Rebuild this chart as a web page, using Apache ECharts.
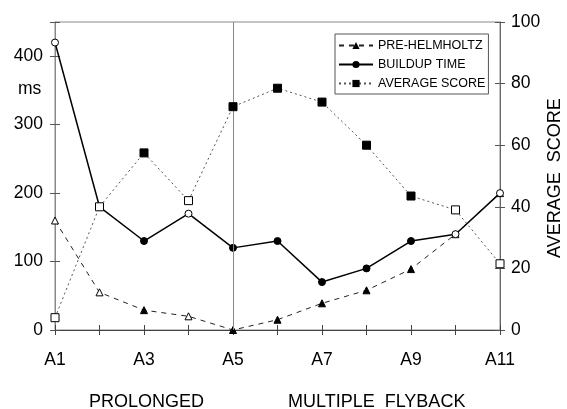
<!DOCTYPE html>
<html>
<head>
<meta charset="utf-8">
<script src="https://cdn.jsdelivr.net/npm/echarts@6/dist/echarts.min.js"></script>
<style>
  html, body { margin: 0; padding: 0; background: #fff; }
  #chart { width: 567px; height: 409px; }
</style>
</head>
<body>
<div id="chart"></div>
<script>
// Trial positions A1..A11
const categories = ['A1', 'A2', 'A3', 'A4', 'A5', 'A6', 'A7', 'A8', 'A9', 'A10', 'A11'];
// Times in ms (left axis)
const preHelmholtz = [160, 55, 29, 20, 0, 15, 39, 58, 89, 140, 200];
const buildupTime = [420, 180, 130, 170, 120, 130, 70, 90, 130, 140, 200];
// Score (right axis)
const averageScore = [4, 40, 57.5, 42, 72.5, 78.5, 74, 60, 43.5, 39, 21.5];
// Left / right tick labels
const msTicks = [0, 100, 200, 300, 400];
const scoreTicks = [0, 20, 40, 60, 80, 100];
// Positions drawn with open (hollow) markers
const openMarkers = ['A1', 'A2', 'A4', 'A10', 'A11'];

const FONT = 'Liberation Sans, Arial, sans-serif';

function styled(values) {
  return values.map((v, i) => ({
    value: v,
    itemStyle: openMarkers.includes(categories[i])
      ? { color: '#fff', borderColor: '#000', borderWidth: 1 }
      : { color: '#000', borderColor: '#000', borderWidth: 1 }
  }));
}

const chart = echarts.init(document.getElementById('chart'), null, { renderer: 'canvas' });

const axisLabelStyle = { color: '#000', fontFamily: FONT, fontSize: 17.5 };

chart.setOption({
  animation: false,
  backgroundColor: '#fff',
  textStyle: { fontFamily: FONT },
  grid: { left: 55, right: 67, top: 22, bottom: 79, show: true, borderColor: '#888', borderWidth: 1 },
  legend: {
    orient: 'vertical',
    left: 335,
    top: 34,
    padding: [5, 3, 4, 3],
    itemGap: 6,
    itemWidth: 34,
    itemHeight: 9,
    borderColor: '#555',
    borderWidth: 1,
    textStyle: { color: '#000', fontSize: 12.5, fontFamily: FONT },
    data: ['PRE-HELMHOLTZ', 'BUILDUP TIME', 'AVERAGE SCORE']
  },
  xAxis: [
    {
      type: 'category', data: categories, boundaryGap: false, position: 'bottom',
      axisLine: { onZero: false, lineStyle: { color: '#444', width: 1 } },
      axisTick: { show: true, interval: 0, length: 5, lineStyle: { color: '#444' } },
      axisLabel: Object.assign({ interval: 1, margin: 21 }, axisLabelStyle),
      splitLine: { show: false }
    },
    {
      type: 'category', data: categories, boundaryGap: false, position: 'bottom',
      axisLine: { show: false, onZero: false },
      axisTick: { show: true, inside: true, interval: 0, length: 5, lineStyle: { color: '#444' } },
      axisLabel: { show: false },
      splitLine: { show: false }
    }
  ],
  yAxis: [
    {
      type: 'value', position: 'left', min: 0, max: 450, interval: 100,
      axisLine: { show: true, lineStyle: { color: '#888' } },
      axisTick: { show: true, length: 5, lineStyle: { color: '#555' } },
      axisLabel: Object.assign({
        margin: 12,
        formatter: v => msTicks.includes(v) ? String(v) : ''
      }, axisLabelStyle),
      splitLine: { show: false }
    },
    {
      type: 'value', position: 'right', min: 0, max: 100, interval: 20,
      axisLine: { show: true, lineStyle: { color: '#666' } },
      axisTick: { show: true, length: 5, lineStyle: { color: '#555' } },
      axisLabel: Object.assign({
        margin: 11,
        formatter: v => scoreTicks.includes(v) ? String(v) : ''
      }, axisLabelStyle),
      splitLine: { show: false }
    },
    {
      type: 'value', position: 'left', min: 0, max: 450, interval: 100,
      axisLine: { show: false, onZero: false },
      axisTick: { show: true, inside: true, length: 5, lineStyle: { color: '#555' } },
      axisLabel: { show: false }, splitLine: { show: false }
    },
    {
      type: 'value', position: 'right', min: 0, max: 100, interval: 20,
      axisLine: { show: false, onZero: false },
      axisTick: { show: true, inside: true, length: 5, lineStyle: { color: '#555' } },
      axisLabel: { show: false }, splitLine: { show: false }
    }
  ],
  series: [
    {
      name: 'PRE-HELMHOLTZ', type: 'line', yAxisIndex: 0,
      data: styled(preHelmholtz),
      symbol: 'triangle', symbolSize: 7,
      itemStyle: { color: '#000' },
      lineStyle: { color: '#222', width: 1, type: [5, 5] },
      z: 3,
      markLine: {
        silent: true, symbol: 'none', label: { show: false },
        lineStyle: { color: '#888', width: 1, type: 'solid' },
        data: [{ xAxis: 'A5' }]
      }
    },
    {
      name: 'BUILDUP TIME', type: 'line', yAxisIndex: 0,
      data: styled(buildupTime),
      symbol: 'circle', symbolSize: 7,
      itemStyle: { color: '#000' },
      lineStyle: { color: '#000', width: 1.5 },
      z: 4
    },
    {
      name: 'AVERAGE SCORE', type: 'line', yAxisIndex: 1,
      data: styled(averageScore),
      symbol: 'rect', symbolSize: 8,
      itemStyle: { color: '#000' },
      lineStyle: { color: '#555', width: 1, type: [2, 3] },
      z: 5
    }
  ],
  graphic: [
    { type: 'text', left: 18, top: 80, style: { text: 'ms', font: '17.5px ' + FONT, fill: '#000' } },
    {
      type: 'text', x: 546, y: 258, rotation: Math.PI / 2,
      style: { text: 'AVERAGE  SCORE', font: '18px ' + FONT, fill: '#000' }
    },
    { type: 'text', left: 89, top: 393, style: { text: 'PROLONGED', font: '18px ' + FONT, fill: '#000' } },
    { type: 'text', left: 288, top: 393, style: { text: 'MULTIPLE  FLYBACK', font: '18px ' + FONT, fill: '#000' } }
  ]
});
</script>
</body>
</html>
